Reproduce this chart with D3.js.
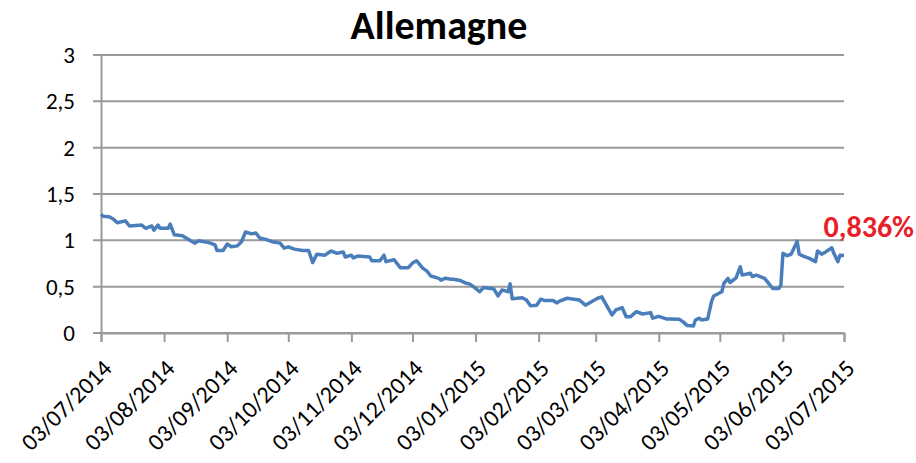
<!DOCTYPE html>
<html>
<head>
  <title>Allemagne</title>
  <style>
    body {
      margin: 0;
      background: #fff;
      font-family: Carlito, Calibri, Lato, sans-serif;
    }
  </style>
</head>
<body>
  <svg id="chart"></svg>

  <script src="https://d3js.org/d3.v7.min.js"></script>
  <script>
    // Taux a 10 ans, Allemagne (%)
    const dates = [
      "2014-07-03", "2014-07-04", "2014-07-07", "2014-07-09", "2014-07-11", "2014-07-15",
      "2014-07-17", "2014-07-23", "2014-07-25", "2014-07-28", "2014-07-29", "2014-07-31",
      "2014-08-01", "2014-08-05", "2014-08-06", "2014-08-08", "2014-08-12", "2014-08-15",
      "2014-08-18", "2014-08-20", "2014-08-25", "2014-08-28", "2014-08-29", "2014-09-01",
      "2014-09-03", "2014-09-05", "2014-09-08", "2014-09-10", "2014-09-12", "2014-09-15",
      "2014-09-17", "2014-09-19", "2014-09-22", "2014-09-25", "2014-09-29", "2014-10-01",
      "2014-10-03", "2014-10-06", "2014-10-10", "2014-10-13", "2014-10-15", "2014-10-17",
      "2014-10-21", "2014-10-24", "2014-10-27", "2014-10-30", "2014-10-31", "2014-11-03",
      "2014-11-04", "2014-11-06", "2014-11-12", "2014-11-13", "2014-11-17", "2014-11-19",
      "2014-11-20", "2014-11-24", "2014-11-27", "2014-12-01", "2014-12-03", "2014-12-05",
      "2014-12-08", "2014-12-10", "2014-12-12", "2014-12-16", "2014-12-17", "2014-12-19",
      "2014-12-22", "2014-12-23", "2014-12-26", "2014-12-29", "2014-12-31", "2015-01-02",
      "2015-01-05", "2015-01-07", "2015-01-12", "2015-01-14", "2015-01-16", "2015-01-19",
      "2015-01-20", "2015-01-21", "2015-01-26", "2015-01-28", "2015-01-30", "2015-02-02",
      "2015-02-04", "2015-02-06", "2015-02-10", "2015-02-12", "2015-02-13", "2015-02-17",
      "2015-02-23", "2015-02-26", "2015-03-02", "2015-03-04", "2015-03-06", "2015-03-11",
      "2015-03-13", "2015-03-16", "2015-03-18", "2015-03-20", "2015-03-23", "2015-03-26",
      "2015-03-30", "2015-03-31", "2015-04-03", "2015-04-07", "2015-04-08", "2015-04-13",
      "2015-04-15", "2015-04-17", "2015-04-20", "2015-04-21", "2015-04-23", "2015-04-24",
      "2015-04-27", "2015-04-29", "2015-04-30", "2015-05-04", "2015-05-05", "2015-05-07",
      "2015-05-08", "2015-05-11", "2015-05-13", "2015-05-14", "2015-05-18", "2015-05-19",
      "2015-05-21", "2015-05-25", "2015-05-27", "2015-05-29", "2015-06-01", "2015-06-02",
      "2015-06-03", "2015-06-05", "2015-06-07", "2015-06-08", "2015-06-10", "2015-06-11",
      "2015-06-13", "2015-06-16", "2015-06-19", "2015-06-20", "2015-06-22", "2015-06-24",
      "2015-06-27", "2015-06-28", "2015-06-30", "2015-07-01", "2015-07-03"
    ];
    const rates = [
      1.28, 1.26, 1.255, 1.23, 1.19, 1.21,
      1.155, 1.165, 1.13, 1.155, 1.11, 1.165,
      1.13, 1.13, 1.175, 1.06, 1.05, 1.01,
      0.97, 0.995, 0.975, 0.95, 0.89, 0.89,
      0.96, 0.93, 0.94, 0.985, 1.09, 1.07,
      1.08, 1.025, 1.01, 0.985, 0.97, 0.915,
      0.93, 0.905, 0.89, 0.89, 0.76, 0.85,
      0.84, 0.885, 0.86, 0.875, 0.82, 0.84,
      0.81, 0.83, 0.82, 0.78, 0.78, 0.84,
      0.77, 0.79, 0.705, 0.705, 0.755, 0.78,
      0.70, 0.67, 0.615, 0.59, 0.57, 0.59,
      0.58, 0.58, 0.57, 0.54, 0.53, 0.50,
      0.445, 0.49, 0.475, 0.40, 0.465, 0.445,
      0.53, 0.37, 0.38, 0.355, 0.295, 0.30,
      0.365, 0.35, 0.35, 0.325, 0.34, 0.375,
      0.355, 0.30, 0.35, 0.375, 0.39, 0.195,
      0.25, 0.275, 0.175, 0.175, 0.23, 0.205,
      0.22, 0.16, 0.18, 0.15, 0.15, 0.148,
      0.12, 0.08, 0.075, 0.14, 0.16, 0.14,
      0.15, 0.345, 0.40, 0.445, 0.535, 0.59,
      0.545, 0.595, 0.715, 0.625, 0.645, 0.61,
      0.625, 0.59, 0.535, 0.48, 0.48, 0.52,
      0.86, 0.835, 0.85, 0.895, 0.99, 0.85,
      0.83, 0.805, 0.77, 0.885, 0.85, 0.875,
      0.92, 0.86, 0.77, 0.84, 0.836
    ];
    const xTicks = [
      "2014-07-03", "2014-08-03", "2014-09-03", "2014-10-03", "2014-11-03", "2014-12-03",
      "2015-01-03", "2015-02-03", "2015-03-03", "2015-04-03", "2015-05-03", "2015-06-03",
      "2015-07-03"
    ];
    const yTicks = [0, 0.5, 1, 1.5, 2, 2.5, 3];
    const title = "Allemagne";
    const lastRate = 0.836;

    const chart = () => {
      const width = 916;
      const height = 463;
      const margin = { top: 55, right: 72, bottom: 130, left: 101 };

      const parse = d3.timeParse("%Y-%m-%d");
      const data = dates.map((d, i) => ({ date: parse(d), value: rates[i] }));
      const frNum = (v) => String(v).replace(".", ",");

      const svg = d3.select("#chart")
        .attr("width", width)
        .attr("height", height);

      const x = d3.scaleTime()
        .domain([parse(xTicks[0]), parse(xTicks[xTicks.length - 1])])
        .range([margin.left, width - margin.right]);

      const y = d3.scaleLinear()
        .domain([0, 3])
        .range([height - margin.bottom, margin.top]);

      // grid
      svg.append("g")
        .selectAll("line")
        .data(yTicks)
        .join("line")
        .attr("x1", margin.left - 8)
        .attr("x2", width - margin.right)
        .attr("y1", (d) => y(d))
        .attr("y2", (d) => y(d))
        .attr("stroke", "#9a9a9a")
        .attr("stroke-width", 2);

      // y axis
      const yAxis = svg.append("g")
        .attr("transform", `translate(${margin.left},0)`)
        .call(d3.axisLeft(y).tickValues(yTicks).tickSize(0).tickPadding(26).tickFormat(frNum));
      yAxis.select(".domain")
        .attr("stroke", "#9a9a9a")
        .attr("stroke-width", 2);
      yAxis.selectAll("text")
        .attr("font-family", "Carlito, Calibri, Lato, sans-serif")
        .attr("font-size", 23)
        .attr("fill", "#000");

      // x axis
      const xAxis = svg.append("g")
        .attr("transform", `translate(0,${height - margin.bottom})`)
        .call(d3.axisBottom(x).tickValues(xTicks.map(parse)).tickSize(9).tickFormat(""));
      xAxis.select(".domain")
        .attr("stroke", "#9a9a9a")
        .attr("stroke-width", 2);
      xAxis.selectAll(".tick line")
        .attr("stroke", "#9a9a9a")
        .attr("stroke-width", 2);

      svg.append("g")
        .selectAll("text")
        .data(xTicks)
        .join("text")
        .attr("transform", (d) => `translate(${x(parse(d)) + 12},${height - margin.bottom + 37}) rotate(-45)`)
        .attr("text-anchor", "end")
        .attr("font-size", 24)
        .attr("fill", "#000")
        .text((d) => d3.timeFormat("%d/%m/%Y")(parse(d)));

      // line
      const line = d3.line()
        .x((d) => x(d.date))
        .y((d) => y(d.value));

      svg.append("path")
        .datum(data)
        .attr("fill", "none")
        .attr("stroke", "#4a7ebb")
        .attr("stroke-width", 3.5)
        .attr("stroke-linejoin", "round")
        .attr("d", line);

      // title
      svg.append("text")
        .attr("x", 439)
        .attr("y", 39)
        .attr("text-anchor", "middle")
        .attr("font-size", 40)
        .attr("font-weight", "bold")
        .attr("fill", "#000")
        .text(title);

      // last value label
      svg.append("text")
        .attr("x", 914)
        .attr("y", 237)
        .attr("text-anchor", "end")
        .attr("font-size", 30)
        .attr("font-weight", "bold")
        .attr("fill", "#e8202a")
        .text(frNum(lastRate) + "%");
    };

    chart();
  </script>
</body>
</html>
